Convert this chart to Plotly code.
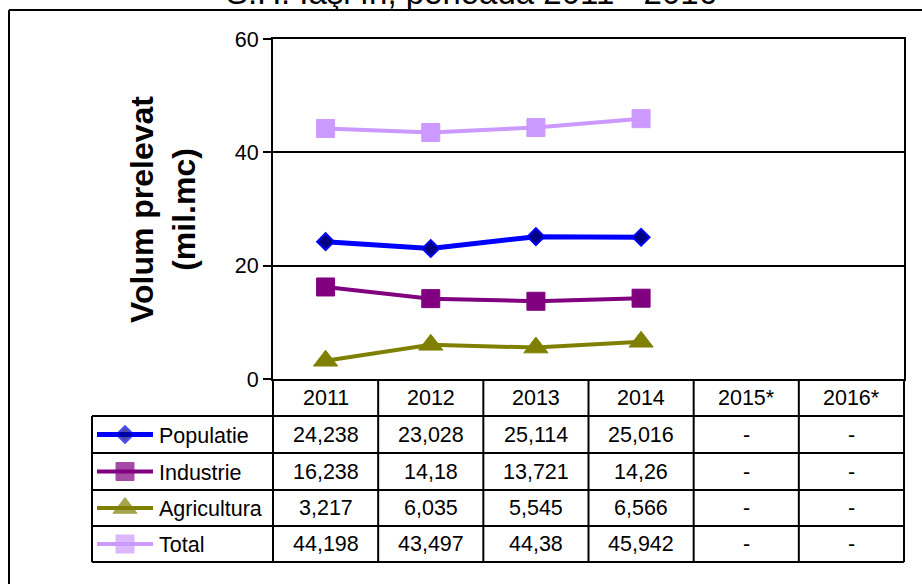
import plotly.graph_objects as go

# ---------------- data ----------------
years = ["2011", "2012", "2013", "2014", "2015*", "2016*"]
populatie = [24.238, 23.028, 25.114, 25.016, None, None]
industrie = [16.238, 14.18, 13.721, 14.26, None, None]
agricultura = [3.217, 6.035, 5.545, 6.566, None, None]
total = [44.198, 43.497, 44.38, 45.942, None, None]
series_names = ["Populatie", "Industrie", "Agricultura", "Total"]
y_ticks = [0, 20, 40, 60]
title_text = "S.H. Iaşi în, perioada 2011 - 2016"
y_title = "Volum prelevat<br>(mil.mc)"

# ---------------- styling ----------------
W, H = 922, 584
FONT = "Arial, Liberation Sans, sans-serif"
TFS = 21.5   # table font size
styles = [
    dict(line=dict(color="#0000FF", width=5),
         marker=dict(symbol="diamond", size=13, color="#000080",
                     line=dict(color="#0000FF", width=2))),
    dict(line=dict(color="#800080", width=4),
         marker=dict(symbol="square", size=18, color="#800080",
                     line=dict(color="#800080", width=1))),
    dict(line=dict(color="#808000", width=4),
         marker=dict(symbol="triangle-up", size=21, color="#808000",
                     line=dict(color="#808000", width=1))),
    dict(line=dict(color="#CC99FF", width=4),
         marker=dict(symbol="square", size=18, color="#CC99FF",
                     line=dict(color="#CC99FF", width=1))),
]
all_series = [populatie, industrie, agricultura, total]

# pixel layout
PX_L, PX_R = 273, 904
PX_T, PX_B = 39, 379
TBL_L = 92
ROW_Y = [379, 416, 453, 490, 526, 562]
LEG_X0, LEG_X1, LEG_TX = 97, 153, 157

fig = go.Figure()

for name, vals, st in zip(series_names, all_series, styles):
    fig.add_trace(go.Scatter(
        x=years, y=vals, name=name, mode="lines+markers",
        line=st["line"], marker=st["marker"], connectgaps=False,
        xaxis="x", yaxis="y", showlegend=False, cliponaxis=False))

for i, (name, st) in enumerate(zip(series_names, styles)):
    yc = (ROW_Y[i + 1] + ROW_Y[i + 2]) / 2
    mk = dict(st["marker"])
    mk["size"] = [0, st["marker"]["size"], 0]
    fig.add_trace(go.Scatter(
        x=[LEG_X0, (LEG_X0 + LEG_X1) / 2, LEG_X1], y=[yc] * 3,
        mode="lines+markers", line=st["line"], marker=mk,
        xaxis="x2", yaxis="y2", showlegend=False, hoverinfo="skip",
        cliponaxis=False))

shapes = []
LW = 2
def hline(y, x0, x1, w=LW):
    shapes.append(dict(type="line", xref="x2", yref="y2", x0=x0, x1=x1,
                       y0=y, y1=y, line=dict(color="black", width=w)))
def vline(x, y0, y1, w=LW, cat=False):
    shapes.append(dict(type="line", xref="x" if cat else "x2", yref="y2",
                       x0=x, x1=x, y0=y0, y1=y1,
                       line=dict(color="black", width=w)))

for y in ROW_Y[1:]:
    hline(y, TBL_L, PX_R)
vline(TBL_L, ROW_Y[1], ROW_Y[-1])
vline(PX_L, ROW_Y[0], ROW_Y[-1])
vline(PX_R, ROW_Y[0], ROW_Y[-1])
for k in range(len(years) - 1):
    vline(k + 0.5, ROW_Y[0], ROW_Y[-1], cat=True)
# outer chart border (left & top)
vline(9, 10, H + 10)
hline(10, 9, W + 10)

annotations = []
for k, yr in enumerate(years):
    annotations.append(dict(x=k, y=(ROW_Y[0] + ROW_Y[1]) / 2, xref="x", yref="y2",
                            text=yr, showarrow=False,
                            font=dict(family=FONT, size=TFS, color="black")))
for i, (name, vals) in enumerate(zip(series_names, all_series)):
    yc = (ROW_Y[i + 1] + ROW_Y[i + 2]) / 2
    annotations.append(dict(x=LEG_TX, y=yc + 1, xref="x2", yref="y2", text=name,
                            xanchor="left", showarrow=False,
                            font=dict(family=FONT, size=TFS, color="black")))
    for k, v in enumerate(vals):
        txt = "-" if v is None else str(v).replace(".", ",")
        annotations.append(dict(x=k, y=yc, xref="x", yref="y2", text=txt,
                                showarrow=False,
                                font=dict(family=FONT, size=TFS, color="black")))
annotations.append(dict(x=163, y=(PX_T + PX_B) / 2 + 1, xref="x2", yref="y2",
                        text="<b>" + y_title + "</b>", textangle=-90,
                        showarrow=False,
                        font=dict(family=FONT, size=32, color="black")))
# chart title, mostly cut off by the top edge as in the reference
annotations.append(dict(x=471, y=13, xref="x2", yref="y2", yanchor="bottom",
                        text=title_text, showarrow=False,
                        font=dict(family=FONT, size=33, color="black")))

fig.update_layout(
    width=W, height=H,
    margin=dict(l=0, r=0, t=0, b=0, pad=0, autoexpand=False),
    paper_bgcolor="white", plot_bgcolor="rgba(0,0,0,0)",
    showlegend=False,
    font=dict(family=FONT, size=20, color="black"),
    xaxis=dict(type="category", categoryorder="array", categoryarray=years,
               range=[-0.5, len(years) - 0.5],
               domain=[PX_L / W, PX_R / W], anchor="y",
               showline=True, mirror=True, linecolor="black", linewidth=2,
               showgrid=False, ticks="", showticklabels=False, zeroline=False,
               automargin=False),
    yaxis=dict(range=[0, 60], tickvals=y_ticks,
               domain=[1 - PX_B / H, 1 - PX_T / H], anchor="x",
               showline=True, mirror=True, linecolor="black", linewidth=2,
               showgrid=True, gridcolor="black", gridwidth=1.5,
               ticks="outside", ticklen=8, tickwidth=2, tickcolor="black",
               tickfont=dict(family=FONT, size=21.5, color="black"),
               zeroline=False, automargin=False),
    xaxis2=dict(range=[0, W], domain=[0, 1], anchor="y2", visible=False,
                fixedrange=True, automargin=False),
    yaxis2=dict(range=[H, 0], domain=[0, 1], anchor="x2", visible=False,
                fixedrange=True, automargin=False),
    shapes=shapes, annotations=annotations,
)

fig.write_html("out.html",
               config={"displayModeBar": False},
               post_script="document.body.style.margin='0';")
